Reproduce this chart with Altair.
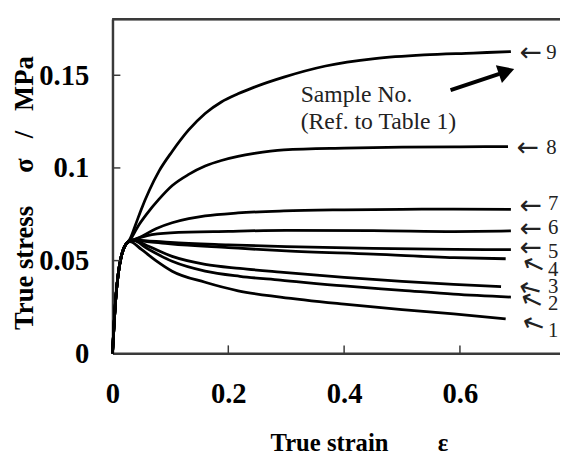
import altair as alt
import pandas as pd

# ---------------- data ----------------
samples = ["1", "2", "3", "4", "5", "6", "7", "8", "9"]

strain_1 = [0, 0.003, 0.006, 0.01, 0.015, 0.02, 0.025, 0.03, 0.05, 0.075, 0.103, 0.16, 0.217, 0.29, 0.4, 0.5, 0.589, 0.679]
stress_1 = [0, 0.017, 0.031, 0.043, 0.052, 0.057, 0.0595, 0.0603, 0.056, 0.050, 0.0443, 0.0383, 0.0337, 0.0303, 0.0265, 0.0236, 0.0213, 0.0186]

strain_2 = [0, 0.003, 0.006, 0.01, 0.015, 0.02, 0.025, 0.035, 0.06, 0.103, 0.16, 0.22, 0.29, 0.4, 0.5, 0.589, 0.688]
stress_2 = [0, 0.017, 0.031, 0.043, 0.052, 0.057, 0.0595, 0.061, 0.0565, 0.0496, 0.0443, 0.0415, 0.0395, 0.0363, 0.034, 0.0319, 0.0303]

strain_3 = [0, 0.003, 0.006, 0.01, 0.015, 0.02, 0.025, 0.035, 0.06, 0.103, 0.16, 0.22, 0.29, 0.4, 0.5, 0.589, 0.671]
stress_3 = [0, 0.017, 0.031, 0.043, 0.052, 0.057, 0.0595, 0.061, 0.058, 0.0523, 0.048, 0.0458, 0.0438, 0.041, 0.0388, 0.0372, 0.036]

strain_4 = [0, 0.003, 0.006, 0.01, 0.015, 0.02, 0.025, 0.035, 0.06, 0.1, 0.2, 0.3, 0.45, 0.59, 0.679]
stress_4 = [0, 0.017, 0.031, 0.043, 0.052, 0.057, 0.0595, 0.061, 0.0603, 0.059, 0.057, 0.0552, 0.0535, 0.0516, 0.051]

strain_5 = [0, 0.003, 0.006, 0.01, 0.015, 0.02, 0.025, 0.035, 0.06, 0.1, 0.2, 0.3, 0.45, 0.59, 0.688]
stress_5 = [0, 0.017, 0.031, 0.043, 0.052, 0.057, 0.0595, 0.061, 0.0607, 0.0598, 0.0585, 0.0575, 0.0566, 0.056, 0.0559]

strain_6 = [0, 0.003, 0.006, 0.01, 0.015, 0.02, 0.025, 0.035, 0.06, 0.1, 0.2, 0.3, 0.45, 0.59, 0.688]
stress_6 = [0, 0.017, 0.031, 0.043, 0.052, 0.057, 0.0595, 0.061, 0.0635, 0.065, 0.0658, 0.0663, 0.0662, 0.0657, 0.066]

strain_7 = [0, 0.003, 0.006, 0.01, 0.015, 0.02, 0.025, 0.035, 0.0465, 0.075, 0.103, 0.1316, 0.16, 0.2167, 0.296, 0.4, 0.5, 0.589, 0.688]
stress_7 = [0, 0.017, 0.031, 0.043, 0.052, 0.057, 0.0595, 0.061, 0.0625, 0.0672, 0.0704, 0.0726, 0.0741, 0.0757, 0.0768, 0.0774, 0.0777, 0.0778, 0.0777]

strain_8 = [0, 0.003, 0.006, 0.01, 0.015, 0.02, 0.025, 0.03, 0.045, 0.06, 0.08, 0.1033, 0.1316, 0.16, 0.188, 0.2167, 0.245, 0.296, 0.4, 0.5, 0.6, 0.683]
stress_8 = [0, 0.017, 0.031, 0.043, 0.052, 0.057, 0.0595, 0.061, 0.069, 0.0755, 0.083, 0.0905, 0.0965, 0.1010, 0.1040, 0.1062, 0.1078, 0.1097, 0.1107, 0.1112, 0.1114, 0.1115]

strain_9 = [0, 0.003, 0.006, 0.01, 0.015, 0.02, 0.025, 0.03, 0.04, 0.049, 0.0635, 0.0806, 0.1033, 0.1316, 0.16, 0.188, 0.2167, 0.245, 0.296, 0.368, 0.453, 0.538, 0.623, 0.688]
stress_9 = [0, 0.017, 0.031, 0.043, 0.052, 0.057, 0.0595, 0.0615, 0.0695, 0.0771, 0.0878, 0.0984, 0.1090, 0.1205, 0.1294, 0.1356, 0.140, 0.1436, 0.149, 0.155, 0.159, 0.161, 0.162, 0.1628]

# right-hand sample labels (arrow glyph and number), in data units
arrow_x = [0.727, 0.724, 0.721, 0.727, 0.722, 0.722, 0.722, 0.717, 0.722]
arrow_y = [0.0154, 0.0282, 0.0346, 0.0473, 0.0569, 0.067, 0.0793, 0.1106, 0.1622]
arrow_angle = [20, 25, 15, 25, 0, 0, 0, 0, 0]
number_x = [0.752, 0.752, 0.752, 0.752, 0.752, 0.752, 0.752, 0.749, 0.749]
number_y = [0.0122, 0.0266, 0.0356, 0.0447, 0.0548, 0.0676, 0.0803, 0.1106, 0.1622]

x_ticks = [0, 0.2, 0.4, 0.6]
y_ticks = [0, 0.05, 0.1, 0.15]
inner_x_ticks = [0.2, 0.4, 0.6]
inner_y_ticks = [0.05, 0.1, 0.15]

note_lines = ["Sample No.", "(Ref. to Table 1)"]
note_x = [0.325, 0.325]
note_y = [0.1393, 0.1249]

big_arrow_tail = (0.5838, 0.1420)
big_arrow_shaft_end = (0.668, 0.1508)
big_arrow_head = (0.6805, 0.1520)

X_MAX = 0.7728
Y_MAX = 0.1803

# ---------------- tables ----------------
series = {
    "1": (strain_1, stress_1), "2": (strain_2, stress_2), "3": (strain_3, stress_3),
    "4": (strain_4, stress_4), "5": (strain_5, stress_5), "6": (strain_6, stress_6),
    "7": (strain_7, stress_7), "8": (strain_8, stress_8), "9": (strain_9, stress_9),
}
rows = []
for s, (xs, ys) in series.items():
    for i, (x, y) in enumerate(zip(xs, ys)):
        rows.append({"sample": s, "strain": x, "stress": y, "order": i})
df = pd.DataFrame(rows)

labels = pd.DataFrame({
    "sample": samples, "ax": arrow_x, "ay": arrow_y, "ang": arrow_angle,
    "nx": number_x, "ny": number_y, "arrow": ["\u2190"] * len(samples),
})
notes = pd.DataFrame({"text": note_lines, "x": note_x, "y": note_y})
xt = pd.DataFrame({"v": inner_x_ticks})
yt = pd.DataFrame({"v": inner_y_ticks})
arrow_df = pd.DataFrame({
    "x": [big_arrow_tail[0]], "y": [big_arrow_tail[1]],
    "x2": [big_arrow_shaft_end[0]], "y2": [big_arrow_shaft_end[1]],
    "hx": [big_arrow_head[0]], "hy": [big_arrow_head[1]],
})

W, H = 454, 339
TOTAL_H = 452
FONT = "Liberation Serif, Times New Roman, serif"
ARROW_FONT = "DejaVu Sans"
AXIS_COLOR = "#3a3a3a"

xscale = alt.Scale(domain=[0, X_MAX], nice=False, zero=False)
yscale = alt.Scale(domain=[0, Y_MAX], nice=False)

x_axis = alt.Axis(
    values=x_ticks, format="~g", grid=False, ticks=False, tickSize=0,
    domainColor=AXIS_COLOR, domainWidth=2.5,
    labelFont=FONT, labelFontWeight="bold", labelFontSize=29, labelColor="black",
    labelPadding=27, labelFlush=False, labelOverlap=False,
    title="True strain" + "\u00a0" * 8 + "\u03b5",
    titleFont=FONT, titleFontSize=25, titleFontWeight="bold", titleColor="black",
    titleX=250, titleY=99, titleAlign="center", titleBaseline="alphabetic",
)
y_axis = alt.Axis(
    values=y_ticks, format="~g", grid=False, ticks=False, tickSize=0,
    domainColor=AXIS_COLOR, domainWidth=2.5,
    labelFont=FONT, labelFontWeight="bold", labelFontSize=29, labelColor="black",
    labelPadding=24, labelFlush=False, labelOverlap=False,
    title="True stress" + "\u00a0" * 5 + "\u03c3" + "\u00a0" * 3 + "/" + "\u00a0" * 3 + "MPa",
    titleFont=FONT, titleFontSize=27, titleFontWeight="bold", titleColor="black",
    titleAngle=270, titleX=-81, titleY=176, titleAlign="center", titleBaseline="alphabetic",
)

lines = alt.Chart(df).mark_line(color="black", strokeWidth=2.8, interpolate="monotone").encode(
    x=alt.X("strain:Q", scale=xscale, axis=x_axis),
    y=alt.Y("stress:Q", scale=yscale, axis=y_axis),
    detail="sample:N",
    order="order:Q",
)

top_frame = alt.Chart(xt).mark_rule(color=AXIS_COLOR, strokeWidth=2.5).encode(
    x=alt.value(0), x2=alt.value(W), y=alt.value(0)
)

x_tick_marks = alt.Chart(xt).mark_rule(color=AXIS_COLOR, strokeWidth=1.5).encode(
    x=alt.X("v:Q", scale=xscale), y=alt.value(H), y2=alt.value(H - 8)
)
y_tick_marks = alt.Chart(yt).mark_rule(color=AXIS_COLOR, strokeWidth=1.5).encode(
    y=alt.Y("v:Q", scale=yscale), x=alt.value(0), x2=alt.value(8)
)

arrow_text = alt.Chart(labels).mark_text(
    font=ARROW_FONT, fontSize=27, color="#222222", align="center", baseline="middle"
).encode(
    x=alt.X("ax:Q", scale=xscale), y=alt.Y("ay:Q", scale=yscale),
    text="arrow:N", angle=alt.Angle("ang:Q", scale=None),
)
number_text = alt.Chart(labels).mark_text(
    font=FONT, fontSize=21, color="#222222", align="left", baseline="middle"
).encode(
    x=alt.X("nx:Q", scale=xscale), y=alt.Y("ny:Q", scale=yscale), text="sample:N",
)

note_text = alt.Chart(notes).mark_text(
    font=FONT, fontSize=24, color="#222222", align="left", baseline="middle"
).encode(
    x=alt.X("x:Q", scale=xscale), y=alt.Y("y:Q", scale=yscale), text="text:N",
)

shaft = alt.Chart(arrow_df).mark_rule(color="black", strokeWidth=4).encode(
    x=alt.X("x:Q", scale=xscale), y=alt.Y("y:Q", scale=yscale), x2="x2:Q", y2="y2:Q"
)
head = alt.Chart(arrow_df).mark_point(
    shape="triangle-right", filled=True, color="black", size=360, angle=341, opacity=1
).encode(
    x=alt.X("hx:Q", scale=xscale), y=alt.Y("hy:Q", scale=yscale)
)

chart = alt.layer(
    lines, top_frame, x_tick_marks, y_tick_marks, arrow_text, number_text, note_text, shaft, head
).properties(
    width=W, height=H,
    autosize=alt.AutoSizeParams(type="none"),
    padding={"left": 106, "top": 8, "right": 0, "bottom": TOTAL_H - 8 - H},
).configure_view(stroke=None).configure(background="white")

chart.save("out.html", embed_options={"renderer": "svg", "actions": False})
